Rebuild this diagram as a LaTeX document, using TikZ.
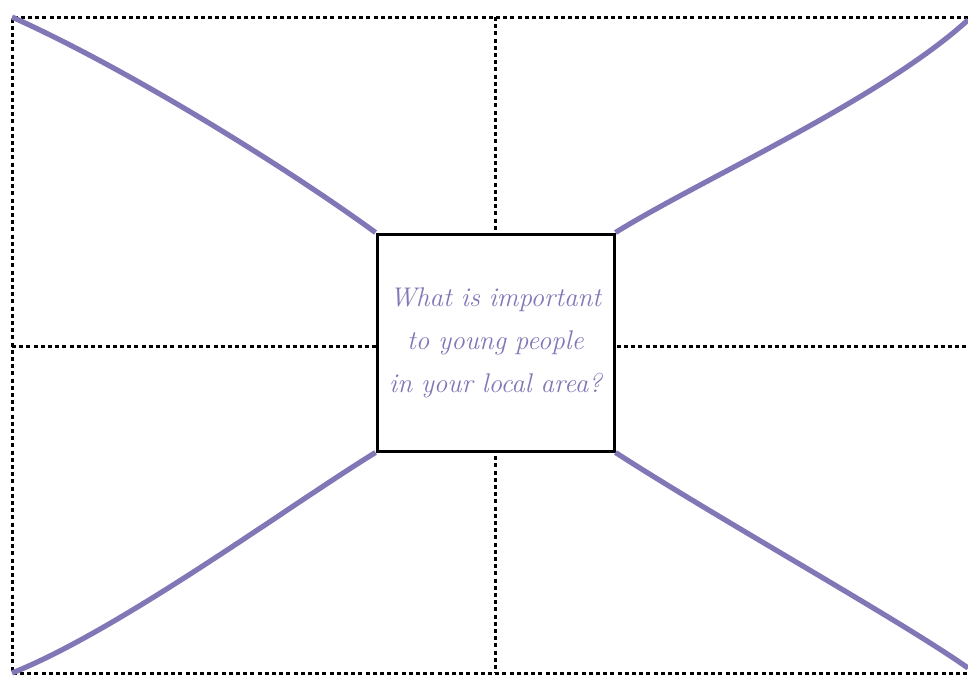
\documentclass[tikz,border=0pt]{standalone}
\usepackage{tikz}
\usetikzlibrary{positioning}
\definecolor{lilac}{HTML}{8177B7}

\begin{document}
\begin{tikzpicture}[x=0.5pt,y=-0.5pt,
  grid/.style={line width=1.5pt,dash pattern=on 2pt off 1.6pt},
  arm/.style={lilac,line width=2.6pt},
  qbox/.style={draw=black,line width=1.5pt,fill=white,minimum width=118.5pt,
               minimum height=108.5pt,inner sep=0pt,align=center,text width=110pt,
               font=\fontsize{13.5}{21.5}\selectfont\itshape,text=lilac}]
 \useasboundingbox (0,0) rectangle (968,675);
 % frame and dotted quarters
 \coordinate (tl) at (12,17); \coordinate (tr) at (968,17);
 \coordinate (bl) at (12,673); \coordinate (br) at (968,673);
 \coordinate (tm) at (495,17); \coordinate (bm) at (495,673);
 \coordinate (lm) at (12,346); \coordinate (rm) at (968,346);
 \draw[grid] (tr)--(tl)--(bl)--(br);
 \draw[grid] (tm)--(bm); \draw[grid] (lm)--(rm);
 \node[qbox] (q) at (495.5,342.5) {What is important\\to young people\\in your local area?};
 % purple arms
 \draw[arm] (tl) .. controls (130,70) and (290,170) .. (q.north west);
 \draw[arm] (q.north east) .. controls (700,180) and (880,100) .. (968,20);
 \draw[arm] (bl) .. controls (120,630) and (290,505) .. (q.south west);
 \draw[arm] (q.south east) .. controls (720,520) and (900,620) .. (968,668);
\end{tikzpicture}
\end{document}
